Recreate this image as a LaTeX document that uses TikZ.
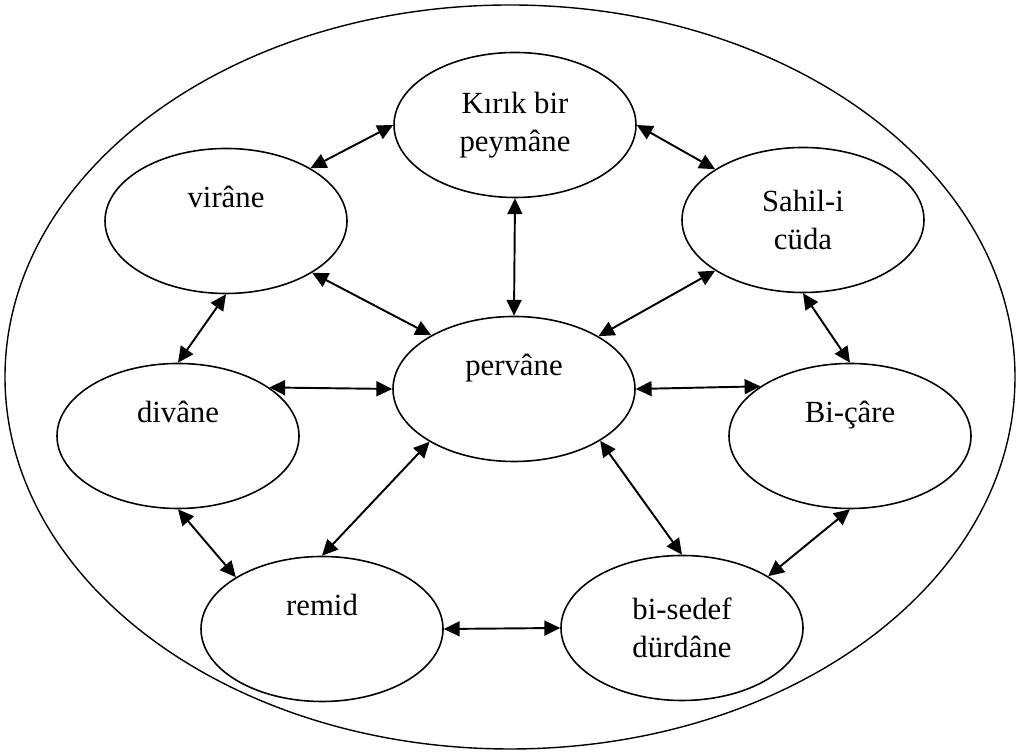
\documentclass[tikz,border=0pt]{standalone}
\usepackage{fontspec}
\setmainfont{Liberation Serif}
\usetikzlibrary{shapes.geometric,arrows.meta}
\begin{document}
\begin{tikzpicture}[>={Triangle[length=9pt,width=8.5pt]},
        word/.style={ellipse, draw, line width=0.9pt, minimum width=4.84cm,
            minimum height=2.9cm, inner sep=0pt, align=center,
            font=\fontsize{17.5}{21.5}\selectfont},
        link/.style={<->, line width=1.1pt}]
    \useasboundingbox (0, 0) rectangle (20.34, 15.08);
    \draw [line width=0.8pt] (10.2, 7.54) ellipse [x radius=10.1, y radius=7.44];

    \node [word] (kirik) at (10.30, 12.58) {Kırık bir\\peymâne};
    \node [word] (virane) at (4.52, 10.66) {virâne\\\strut};
    \node [word] (sahil) at (16.06, 10.68) {Sahil-i\\cüda};
    \node [word] (pervane) at (10.28, 7.30) {pervâne\\\strut};
    \node [word] (divane) at (3.56, 6.36) {divâne\\\strut};
    \node [word] (bicare) at (17.00, 6.36) {Bi-çâre\\\strut};
    \node [word] (remid) at (6.44, 2.50) {remid\\\strut};
    \node [word] (bisedef) at (13.64, 2.52) {bi-sedef\\dürdâne};

    \draw [link] (virane.32) -- (kirik.180);
    \draw [link] (kirik.0) -- (sahil.150);
    \draw [link] (kirik.south) -- (pervane.north);
    \draw [link] (virane.-31) -- (pervane.147);
    \draw [link] (sahil.210) -- (pervane.32);
    \draw [link] (virane.south) -- (divane.north);
    \draw [link] (divane.28) -- (pervane.west);
    \draw [link] (pervane.east) -- (bicare.151);
    \draw [link] (sahil.south) -- (bicare.north);
    \draw [link] (divane.south) -- (remid.149);
    \draw [link] (pervane.212) -- (remid.north);
    \draw [link] (pervane.-31) -- (bisedef.north);
    \draw [link] (bicare.south) -- (bisedef.31);
    \draw [link] (remid.east) -- (bisedef.west);
\end{tikzpicture}
\end{document}
